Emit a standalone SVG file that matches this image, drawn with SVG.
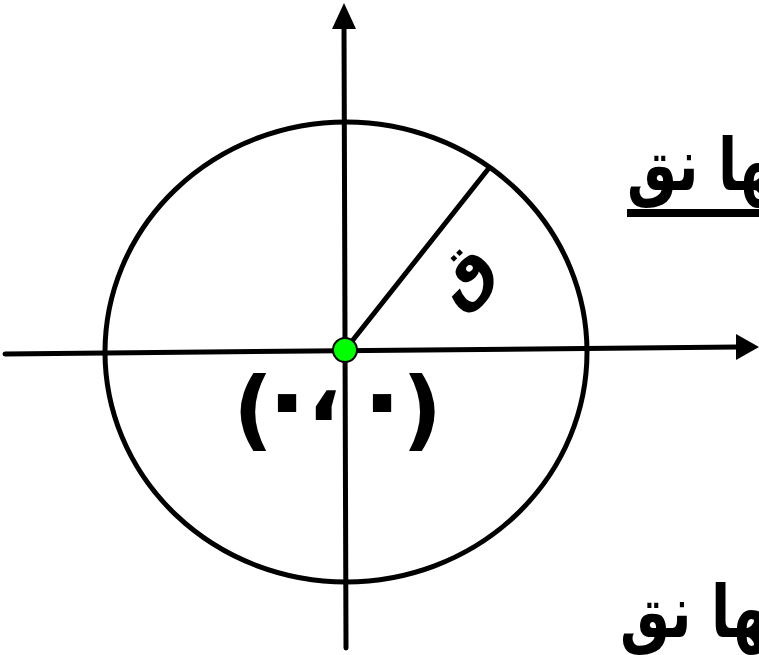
<svg xmlns="http://www.w3.org/2000/svg" width="759" height="655" viewBox="0 0 759 655">
<style>
.ln{stroke:#000;stroke-width:5;fill:none;stroke-linecap:round}
.ar{font-family:"DejaVu Sans","Noto Sans",sans-serif;font-weight:bold;fill:#000}
</style>
<rect width="759" height="655" fill="#fff"/>
<g id="circle"><ellipse class="ln" cx="346" cy="352" rx="241" ry="230"/></g>
<g id="connectors">
<line class="ln" x1="5" y1="354" x2="738" y2="347" stroke-linecap="butt"/>
<polygon points="736,334 759,347 736,360" fill="#000"/>
<line class="ln" x1="346" y1="648" x2="344" y2="26" stroke-linecap="butt"/>
<polygon points="332,29 344,3 356,29" fill="#000"/>
<line class="ln" x1="345" y1="350" x2="489" y2="168"/>
</g>
<g id="origin"><circle cx="345" cy="350" r="12" fill="#00ff00" stroke="#000" stroke-width="2"/></g>
<g id="radius-label"><text class="ar" font-size="66" transform="translate(478 290) rotate(-45)" text-anchor="middle">ق</text></g>
<g id="coords">
<text class="ar" direction="ltr" unicode-bidi="bidi-override"><tspan font-size="88" x="233" y="439">(</tspan><tspan font-size="105" x="255" y="433">٠</tspan><tspan font-size="90" x="307" y="420">،</tspan><tspan font-size="105" x="350" y="433">٠</tspan><tspan font-size="88" x="402" y="439">)</tspan></text>
</g>
<g id="label-top"><text class="ar" font-size="56" transform="translate(627 190) scale(1 1.3)">&#x200D;ها نق</text>
<line x1="627" y1="213" x2="759" y2="213" stroke="#000" stroke-width="8"/></g>
<g id="label-bottom"><text class="ar" font-size="56" transform="translate(620 637) scale(1 1.3)">&#x200D;ها نق</text></g>
</svg>
